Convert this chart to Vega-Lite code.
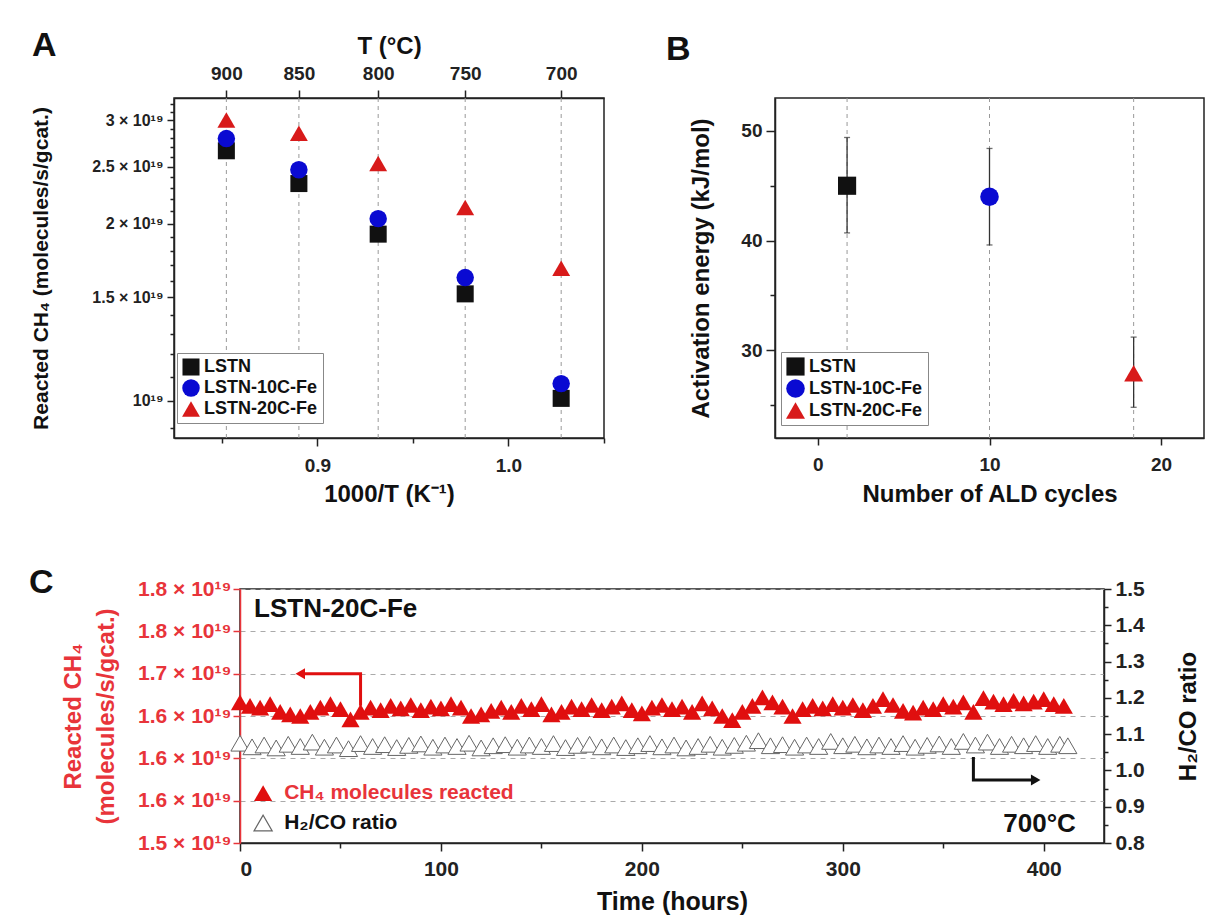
{
  "$schema": "https://vega.github.io/schema/vega-lite/v6.json",
  "padding": {"left": 28, "top": 28, "right": 4, "bottom": 0},
  "background": "white",
  "config": {
    "font": "Liberation Sans",
    "view": {"stroke": "#222", "strokeWidth": 1.5},
    "axis": {
      "grid": false,
      "labelFontWeight": "bold",
      "titleFontWeight": "bold",
      "labelColor": "#222",
      "titleColor": "#111",
      "domainColor": "#222",
      "tickColor": "#222",
      "labelFontSize": 19,
      "titleFontSize": 24,
      "tickSize": 7,
      "domainWidth": 1.5,
      "tickWidth": 1.5,
      "titleBaseline": "middle"
    },
    "title": {"fontSize": 34, "fontWeight": "bold", "anchor": "start", "frame": "group", "color": "#111"},
    "legend": {
      "orient": "none",
      "title": null,
      "strokeColor": "#888",
      "fillColor": "white",
      "padding": 5,
      "labelFontSize": 18,
      "labelFontWeight": "bold",
      "labelColor": "#111",
      "symbolSize": 250,
      "symbolStrokeWidth": 0,
      "rowPadding": 3
    }
  },
  "datasets": {
    "temps": [
      {"T": 900, "inv": 0.85240},
      {"T": 850, "inv": 0.89035},
      {"T": 800, "inv": 0.93184},
      {"T": 750, "inv": 0.97737},
      {"T": 700, "inv": 1.02759}
    ],
    "rates": [
      {"sample": "LSTN", "T": 900, "inv": 0.85240, "rate": 2.66},
      {"sample": "LSTN", "T": 850, "inv": 0.89035, "rate": 2.34},
      {"sample": "LSTN", "T": 800, "inv": 0.93184, "rate": 1.92},
      {"sample": "LSTN", "T": 750, "inv": 0.97737, "rate": 1.52},
      {"sample": "LSTN", "T": 700, "inv": 1.02759, "rate": 1.01},
      {"sample": "LSTN-10C-Fe", "T": 900, "inv": 0.85240, "rate": 2.79},
      {"sample": "LSTN-10C-Fe", "T": 850, "inv": 0.89035, "rate": 2.47},
      {"sample": "LSTN-10C-Fe", "T": 800, "inv": 0.93184, "rate": 2.04},
      {"sample": "LSTN-10C-Fe", "T": 750, "inv": 0.97737, "rate": 1.62},
      {"sample": "LSTN-10C-Fe", "T": 700, "inv": 1.02759, "rate": 1.07},
      {"sample": "LSTN-20C-Fe", "T": 900, "inv": 0.85240, "rate": 3.00},
      {"sample": "LSTN-20C-Fe", "T": 850, "inv": 0.89035, "rate": 2.85},
      {"sample": "LSTN-20C-Fe", "T": 800, "inv": 0.93184, "rate": 2.53},
      {"sample": "LSTN-20C-Fe", "T": 750, "inv": 0.97737, "rate": 2.13},
      {"sample": "LSTN-20C-Fe", "T": 700, "inv": 1.02759, "rate": 1.68}
    ],
    "ea": [
      {"sample": "LSTN", "cycles": 1.7, "ea": 45.0, "lo": 40.7, "hi": 49.4},
      {"sample": "LSTN-10C-Fe", "cycles": 10, "ea": 44.0, "lo": 39.6, "hi": 48.4},
      {"sample": "LSTN-20C-Fe", "cycles": 18.4, "ea": 27.9, "lo": 24.8, "hi": 31.2}
    ],
    "ch4": [
      {"t": 0, "v": 1.666}, {"t": 5, "v": 1.662}, {"t": 10, "v": 1.660}, {"t": 15, "v": 1.664},
      {"t": 20, "v": 1.655}, {"t": 25, "v": 1.652}, {"t": 30, "v": 1.650}, {"t": 35, "v": 1.655},
      {"t": 40, "v": 1.660}, {"t": 45, "v": 1.664}, {"t": 50, "v": 1.658}, {"t": 55, "v": 1.646},
      {"t": 60, "v": 1.655}, {"t": 65, "v": 1.660}, {"t": 70, "v": 1.657}, {"t": 75, "v": 1.662},
      {"t": 80, "v": 1.659}, {"t": 85, "v": 1.663}, {"t": 90, "v": 1.657}, {"t": 95, "v": 1.661},
      {"t": 100, "v": 1.659}, {"t": 105, "v": 1.664}, {"t": 110, "v": 1.660}, {"t": 115, "v": 1.650},
      {"t": 120, "v": 1.652}, {"t": 125, "v": 1.656}, {"t": 130, "v": 1.660}, {"t": 135, "v": 1.655},
      {"t": 140, "v": 1.662}, {"t": 145, "v": 1.658}, {"t": 150, "v": 1.664}, {"t": 155, "v": 1.652},
      {"t": 160, "v": 1.655}, {"t": 165, "v": 1.661}, {"t": 170, "v": 1.658}, {"t": 175, "v": 1.663},
      {"t": 180, "v": 1.657}, {"t": 185, "v": 1.661}, {"t": 190, "v": 1.665}, {"t": 195, "v": 1.657},
      {"t": 200, "v": 1.653}, {"t": 205, "v": 1.660}, {"t": 210, "v": 1.663}, {"t": 215, "v": 1.658},
      {"t": 220, "v": 1.661}, {"t": 225, "v": 1.655}, {"t": 230, "v": 1.665}, {"t": 235, "v": 1.659},
      {"t": 240, "v": 1.650}, {"t": 245, "v": 1.645}, {"t": 250, "v": 1.655}, {"t": 255, "v": 1.662},
      {"t": 260, "v": 1.672}, {"t": 265, "v": 1.666}, {"t": 270, "v": 1.661}, {"t": 275, "v": 1.650},
      {"t": 280, "v": 1.658}, {"t": 285, "v": 1.662}, {"t": 290, "v": 1.659}, {"t": 295, "v": 1.664},
      {"t": 300, "v": 1.660}, {"t": 305, "v": 1.663}, {"t": 310, "v": 1.657}, {"t": 315, "v": 1.662},
      {"t": 320, "v": 1.670}, {"t": 325, "v": 1.663}, {"t": 330, "v": 1.656}, {"t": 335, "v": 1.654},
      {"t": 340, "v": 1.660}, {"t": 345, "v": 1.658}, {"t": 350, "v": 1.664}, {"t": 355, "v": 1.661},
      {"t": 360, "v": 1.666}, {"t": 365, "v": 1.655}, {"t": 370, "v": 1.671}, {"t": 375, "v": 1.667},
      {"t": 380, "v": 1.664}, {"t": 385, "v": 1.668}, {"t": 390, "v": 1.665}, {"t": 395, "v": 1.667},
      {"t": 400, "v": 1.670}, {"t": 405, "v": 1.664}, {"t": 410, "v": 1.662}
    ],
    "ratio": [
      {"t": 0, "r": 1.075}, {"t": 6, "r": 1.065}, {"t": 12, "r": 1.070}, {"t": 18, "r": 1.062},
      {"t": 24, "r": 1.072}, {"t": 30, "r": 1.066}, {"t": 36, "r": 1.078}, {"t": 42, "r": 1.064},
      {"t": 48, "r": 1.070}, {"t": 54, "r": 1.060}, {"t": 60, "r": 1.074}, {"t": 66, "r": 1.066},
      {"t": 72, "r": 1.071}, {"t": 78, "r": 1.063}, {"t": 84, "r": 1.069}, {"t": 90, "r": 1.073},
      {"t": 96, "r": 1.064}, {"t": 102, "r": 1.070}, {"t": 108, "r": 1.066}, {"t": 114, "r": 1.075},
      {"t": 120, "r": 1.062}, {"t": 126, "r": 1.068}, {"t": 132, "r": 1.071}, {"t": 138, "r": 1.064},
      {"t": 144, "r": 1.070}, {"t": 150, "r": 1.066}, {"t": 156, "r": 1.074}, {"t": 162, "r": 1.063},
      {"t": 168, "r": 1.069}, {"t": 174, "r": 1.072}, {"t": 180, "r": 1.065}, {"t": 186, "r": 1.070},
      {"t": 192, "r": 1.063}, {"t": 198, "r": 1.068}, {"t": 204, "r": 1.074}, {"t": 210, "r": 1.065},
      {"t": 216, "r": 1.070}, {"t": 222, "r": 1.062}, {"t": 228, "r": 1.066}, {"t": 234, "r": 1.072},
      {"t": 240, "r": 1.064}, {"t": 246, "r": 1.069}, {"t": 252, "r": 1.075}, {"t": 258, "r": 1.082},
      {"t": 264, "r": 1.068}, {"t": 270, "r": 1.071}, {"t": 276, "r": 1.064}, {"t": 282, "r": 1.070},
      {"t": 288, "r": 1.066}, {"t": 294, "r": 1.080}, {"t": 300, "r": 1.068}, {"t": 306, "r": 1.072},
      {"t": 312, "r": 1.065}, {"t": 318, "r": 1.070}, {"t": 324, "r": 1.066}, {"t": 330, "r": 1.074},
      {"t": 336, "r": 1.064}, {"t": 342, "r": 1.069}, {"t": 348, "r": 1.073}, {"t": 354, "r": 1.066},
      {"t": 360, "r": 1.080}, {"t": 366, "r": 1.070}, {"t": 372, "r": 1.078}, {"t": 378, "r": 1.066},
      {"t": 384, "r": 1.072}, {"t": 390, "r": 1.068}, {"t": 396, "r": 1.074}, {"t": 402, "r": 1.066},
      {"t": 408, "r": 1.072}, {"t": 412, "r": 1.068}
    ]
  },
  "vconcat": [
    {
      "hconcat": [
        {
          "width": 430,
          "height": 340,
          "title": {"text": "A", "dx": -142, "dy": 33},
          "layer": [
            {
              "data": {"name": "temps"},
              "mark": {"type": "rule", "color": "#999", "strokeDash": [4, 4], "strokeWidth": 1},
              "encoding": {
                "x": {
                  "field": "inv", "type": "quantitative",
                  "scale": {"domain": [0.825, 1.05], "nice": false, "zero": false},
                  "axis": {
                    "orient": "top",
                    "title": "T (°C)",
                    "titleY": -52,
                    "values": [0.8524, 0.89035, 0.93184, 0.97737, 1.02759],
                    "labelExpr": "format(1000 / datum.value - 273.15, '.0f')",
                    "labelPadding": 7,
                    "tickSize": 8
                  }
                }
              }
            },
            {
              "data": {"name": "rates"},
              "mark": {"type": "point", "filled": true, "opacity": 1},
              "encoding": {
                "x": {
                  "field": "inv", "type": "quantitative",
                  "scale": {"domain": [0.825, 1.05], "nice": false, "zero": false},
                  "axis": {
                    "orient": "bottom",
                    "title": "1000/T (K⁻¹)",
                    "titleY": 56,
                    "values": [0.85, 0.9, 0.95, 1.0, 1.05],
                    "labelExpr": "datum.value == 0.9 || datum.value == 1 ? format(datum.value, '.1f') : ''",
                    "tickSize": {"condition": {"test": "datum.value == 0.9 || datum.value == 1", "value": 8}, "value": 5},
                    "labelPadding": 10
                  }
                },
                "y": {
                  "field": "rate", "type": "quantitative",
                  "scale": {"type": "log", "domain": [0.865, 3.27], "nice": false},
                  "axis": {
                    "title": "Reacted CH₄ (molecules/s/gcat.)",
                    "titleX": -133,
                    "titleFontSize": 21,
                    "values": [0.9, 1.0, 1.1, 1.2, 1.3, 1.4, 1.5, 1.6, 1.7, 1.8, 1.9, 2.0, 2.1, 2.2, 2.3, 2.4, 2.5, 2.6, 2.7, 2.8, 2.9, 3.0, 3.1, 3.2],
                    "labelExpr": "datum.value == 1 ? '10¹⁹' : (datum.value == 1.5 || datum.value == 2 || datum.value == 2.5 || datum.value == 3) ? datum.value + ' × 10¹⁹' : ''",
                    "tickSize": {"condition": {"test": "datum.value == 1 || datum.value == 1.5 || datum.value == 2 || datum.value == 2.5 || datum.value == 3", "value": 7}, "value": 4},
                    "labelFontSize": 16,
                    "labelPadding": 4,
                    "labelOverlap": false
                  }
                },
                "color": {
                  "field": "sample", "type": "nominal",
                  "scale": {"domain": ["LSTN", "LSTN-10C-Fe", "LSTN-20C-Fe"], "range": ["#111111", "#0a0ad2", "#d81a1a"]},
                  "legend": {"legendX": 3, "legendY": 255}
                },
                "shape": {
                  "field": "sample", "type": "nominal",
                  "scale": {"domain": ["LSTN", "LSTN-10C-Fe", "LSTN-20C-Fe"], "range": ["square", "circle", "triangle-up"]},
                  "legend": {"legendX": 3, "legendY": 255}
                },
                "size": {
                  "field": "sample", "type": "nominal",
                  "scale": {"domain": ["LSTN", "LSTN-10C-Fe", "LSTN-20C-Fe"], "range": [290, 320, 420]},
                  "legend": null
                }
              }
            }
          ],
          "resolve": {"axis": {"x": "independent"}}
        },
        {
          "width": 429,
          "height": 340,
          "title": {"text": "B", "dx": -109, "dy": -27},
          "data": {"name": "ea"},
          "layer": [
            {
              "mark": {"type": "rule", "color": "#999", "strokeDash": [4, 4], "strokeWidth": 1},
              "encoding": {
                "x": {"field": "cycles", "type": "quantitative"}
              }
            },
            {
              "mark": {"type": "rule", "color": "#333", "strokeWidth": 1.3},
              "encoding": {
                "x": {"field": "cycles", "type": "quantitative"},
                "y": {"field": "lo", "type": "quantitative"},
                "y2": {"field": "hi"}
              }
            },
            {
              "mark": {"type": "tick", "color": "#333", "orient": "horizontal", "size": 6, "thickness": 1.3},
              "encoding": {
                "x": {"field": "cycles", "type": "quantitative"},
                "y": {"field": "lo", "type": "quantitative"}
              }
            },
            {
              "mark": {"type": "tick", "color": "#333", "orient": "horizontal", "size": 6, "thickness": 1.3},
              "encoding": {
                "x": {"field": "cycles", "type": "quantitative"},
                "y": {"field": "hi", "type": "quantitative"}
              }
            },
            {
              "mark": {"type": "point", "filled": true, "opacity": 1},
              "encoding": {
                "x": {
                  "field": "cycles", "type": "quantitative",
                  "scale": {"domain": [-2.5, 22.5], "nice": false, "zero": false},
                  "axis": {
                    "title": "Number of ALD cycles",
                    "titleY": 56,
                    "values": [0, 10, 20],
                    "labelPadding": 10
                  }
                },
                "y": {
                  "field": "ea", "type": "quantitative",
                  "scale": {"domain": [22, 53], "nice": false, "zero": false},
                  "axis": {
                    "title": "Activation energy (kJ/mol)",
                    "titleX": -74,
                    "values": [25, 30, 35, 40, 45, 50],
                    "labelExpr": "datum.value % 10 == 0 ? datum.value : ''",
                    "tickSize": {"condition": {"test": "datum.value % 10 == 0", "value": 9}, "value": 5},
                    "labelPadding": 4
                  }
                },
                "color": {
                  "field": "sample", "type": "nominal",
                  "scale": {"domain": ["LSTN", "LSTN-10C-Fe", "LSTN-20C-Fe"], "range": ["#111111", "#0a0ad2", "#d81a1a"]},
                  "legend": {"legendX": 6, "legendY": 254}
                },
                "shape": {
                  "field": "sample", "type": "nominal",
                  "scale": {"domain": ["LSTN", "LSTN-10C-Fe", "LSTN-20C-Fe"], "range": ["square", "circle", "triangle-up"]},
                  "legend": {"legendX": 6, "legendY": 254}
                },
                "size": {
                  "field": "sample", "type": "nominal",
                  "scale": {"domain": ["LSTN", "LSTN-10C-Fe", "LSTN-20C-Fe"], "range": [330, 360, 460]},
                  "legend": null
                }
              }
            }
          ]
        }
      ],
      "spacing": 59,
      "bounds": "full",
      "resolve": {"scale": {"color": "independent", "shape": "independent", "size": "independent"}}
    },
    {
      "hconcat": [
        {
          "width": 56,
          "height": 10,
          "data": {"values": []},
          "mark": "point",
          "encoding": {},
          "view": {"stroke": null}
        },
        {
          "width": 864,
          "height": 254,
          "title": {"text": "C", "dx": -211, "dy": 26},
          "layer": [
            {
              "layer": [
                {
                  "data": {"name": "ch4"},
                  "mark": {"type": "point", "shape": "triangle-up", "filled": true, "color": "#e00f0f", "opacity": 1, "size": 330},
                  "encoding": {
                    "x": {
                      "field": "t", "type": "quantitative",
                      "scale": {"domain": [0, 430], "nice": false, "zero": false},
                      "axis": {
                        "title": "Time (hours)",
                        "titleY": 58,
                        "titleFontSize": 25,
                        "values": [0, 50, 100, 150, 200, 250, 300, 350, 400],
                        "labelExpr": "datum.value % 100 == 0 ? datum.value : ''",
                        "tickSize": {"condition": {"test": "datum.value % 100 == 0", "value": 8}, "value": 5},
                        "labelFontSize": 21,
                        "labelPadding": 7
                      }
                    },
                    "y": {
                      "field": "v", "type": "quantitative",
                      "scale": {"domain": [1.5, 1.8], "nice": false, "zero": false},
                      "axis": {
                        "title": ["Reacted CH₄", "(molecules/s/gcat.)"],
                        "titleX": -167,
                        "titleLineHeight": 33,
                        "titleColor": "#e8343a",
                        "titleFontSize": 24,
                        "values": [1.5, 1.525, 1.55, 1.575, 1.6, 1.625, 1.65, 1.675, 1.7, 1.725, 1.75, 1.775, 1.8],
                        "labelExpr": "(round(datum.value * 1000) % 50 == 0) ? format(datum.value, '.1f') + ' × 10¹⁹' : ''",
                        "tickSize": {"condition": {"test": "round(datum.value * 1000) % 50 == 0", "value": 7}, "value": 4},
                        "labelColor": "#e8343a",
                        "domainColor": "#e8343a",
                        "tickColor": "#e8343a",
                        "labelFontSize": 21,
                        "labelPadding": 2,
                        "labelOverlap": false,
                        "grid": true,
                        "gridColor": "#aaaaaa",
                        "gridDash": [5, 5],
                        "gridWidth": 1.2,
                        "gridOpacity": {"condition": {"test": "round(datum.value * 1000) % 50 == 0", "value": 1}, "value": 0}
                      }
                    }
                  }
                },
                {
                  "data": {"values": [
                    {"i": 1, "t": 60, "v": 1.662}, {"i": 2, "t": 60, "v": 1.700}, {"i": 3, "t": 32, "v": 1.700}
                  ]},
                  "mark": {"type": "line", "color": "#e00f0f", "strokeWidth": 3},
                  "encoding": {
                    "x": {"field": "t", "type": "quantitative"},
                    "y": {"field": "v", "type": "quantitative"},
                    "order": {"field": "i"}
                  }
                },
                {
                  "data": {"values": [{"t": 30, "v": 1.700}]},
                  "mark": {"type": "point", "shape": "triangle-left", "filled": true, "color": "#e00f0f", "opacity": 1, "size": 120},
                  "encoding": {
                    "x": {"field": "t", "type": "quantitative"},
                    "y": {"field": "v", "type": "quantitative"}
                  }
                },
                {
                  "data": {"values": [
                    {"i": 1, "t": 365, "v": 1.6016}, {"i": 2, "t": 365, "v": 1.5744}, {"i": 3, "t": 394, "v": 1.5744}
                  ]},
                  "mark": {"type": "line", "color": "#111", "strokeWidth": 3},
                  "encoding": {
                    "x": {"field": "t", "type": "quantitative"},
                    "y": {"field": "v", "type": "quantitative"},
                    "order": {"field": "i"}
                  }
                },
                {
                  "data": {"values": [{"t": 396, "v": 1.5744}]},
                  "mark": {"type": "point", "shape": "triangle-right", "filled": true, "color": "#111", "opacity": 1, "size": 120},
                  "encoding": {
                    "x": {"field": "t", "type": "quantitative"},
                    "y": {"field": "v", "type": "quantitative"}
                  }
                },
                {
                  "data": {"values": [{"t": 7, "v": 1.776, "label": "LSTN-20C-Fe"}]},
                  "mark": {"type": "text", "align": "left", "baseline": "middle", "fontSize": 26, "fontWeight": "bold", "color": "#111"},
                  "encoding": {
                    "x": {"field": "t", "type": "quantitative"},
                    "y": {"field": "v", "type": "quantitative"},
                    "text": {"field": "label"}
                  }
                },
                {
                  "data": {"values": [{"t": 416, "v": 1.523, "label": "700°C"}]},
                  "mark": {"type": "text", "align": "right", "baseline": "middle", "fontSize": 26, "fontWeight": "bold", "color": "#111"},
                  "encoding": {
                    "x": {"field": "t", "type": "quantitative"},
                    "y": {"field": "v", "type": "quantitative"},
                    "text": {"field": "label"}
                  }
                },
                {
                  "data": {"values": [{"t": 11.5, "v": 1.559}]},
                  "mark": {"type": "point", "shape": "triangle-up", "filled": true, "color": "#e00f0f", "opacity": 1, "size": 330},
                  "encoding": {
                    "x": {"field": "t", "type": "quantitative"},
                    "y": {"field": "v", "type": "quantitative"}
                  }
                },
                {
                  "data": {"values": [{"t": 11.5, "v": 1.5236}]},
                  "mark": {"type": "point", "shape": "triangle-up", "filled": true, "fill": "white", "stroke": "#666", "strokeWidth": 1.2, "opacity": 1, "size": 330},
                  "encoding": {
                    "x": {"field": "t", "type": "quantitative"},
                    "y": {"field": "v", "type": "quantitative"}
                  }
                },
                {
                  "data": {"values": [{"t": 22, "v": 1.559, "label": "CH₄ molecules reacted"}]},
                  "mark": {"type": "text", "align": "left", "baseline": "middle", "fontSize": 21, "fontWeight": "bold", "color": "#e8343a"},
                  "encoding": {
                    "x": {"field": "t", "type": "quantitative"},
                    "y": {"field": "v", "type": "quantitative"},
                    "text": {"field": "label"}
                  }
                },
                {
                  "data": {"values": [{"t": 22, "v": 1.5236, "label": "H₂/CO ratio"}]},
                  "mark": {"type": "text", "align": "left", "baseline": "middle", "fontSize": 21, "fontWeight": "bold", "color": "#111"},
                  "encoding": {
                    "x": {"field": "t", "type": "quantitative"},
                    "y": {"field": "v", "type": "quantitative"},
                    "text": {"field": "label"}
                  }
                }
              ]
            },
            {
              "data": {"name": "ratio"},
              "mark": {"type": "point", "shape": "triangle-up", "filled": true, "fill": "white", "stroke": "#666", "strokeWidth": 1, "opacity": 1, "size": 330},
              "encoding": {
                "x": {"field": "t", "type": "quantitative"},
                "y": {
                  "field": "r", "type": "quantitative",
                  "scale": {"domain": [0.8, 1.5], "nice": false, "zero": false},
                  "axis": {
                    "orient": "right",
                    "title": "H₂/CO ratio",
                    "titleAngle": 270,
                    "titleX": 84,
                    "titleFontSize": 24,
                    "values": [0.8, 0.85, 0.9, 0.95, 1.0, 1.05, 1.1, 1.15, 1.2, 1.25, 1.3, 1.35, 1.4, 1.45, 1.5],
                    "labelExpr": "(round(datum.value * 100) % 10 == 0) ? format(datum.value, '.1f') : ''",
                    "tickSize": {"condition": {"test": "round(datum.value * 100) % 10 == 0", "value": 7}, "value": 4},
                    "labelFontSize": 21,
                    "labelPadding": 4,
                    "labelOverlap": false
                  }
                }
              }
            }
          ],
          "resolve": {"scale": {"y": "independent"}}
        }
      ],
      "spacing": 10,
      "bounds": "flush"
    }
  ],
  "spacing": 58
}
